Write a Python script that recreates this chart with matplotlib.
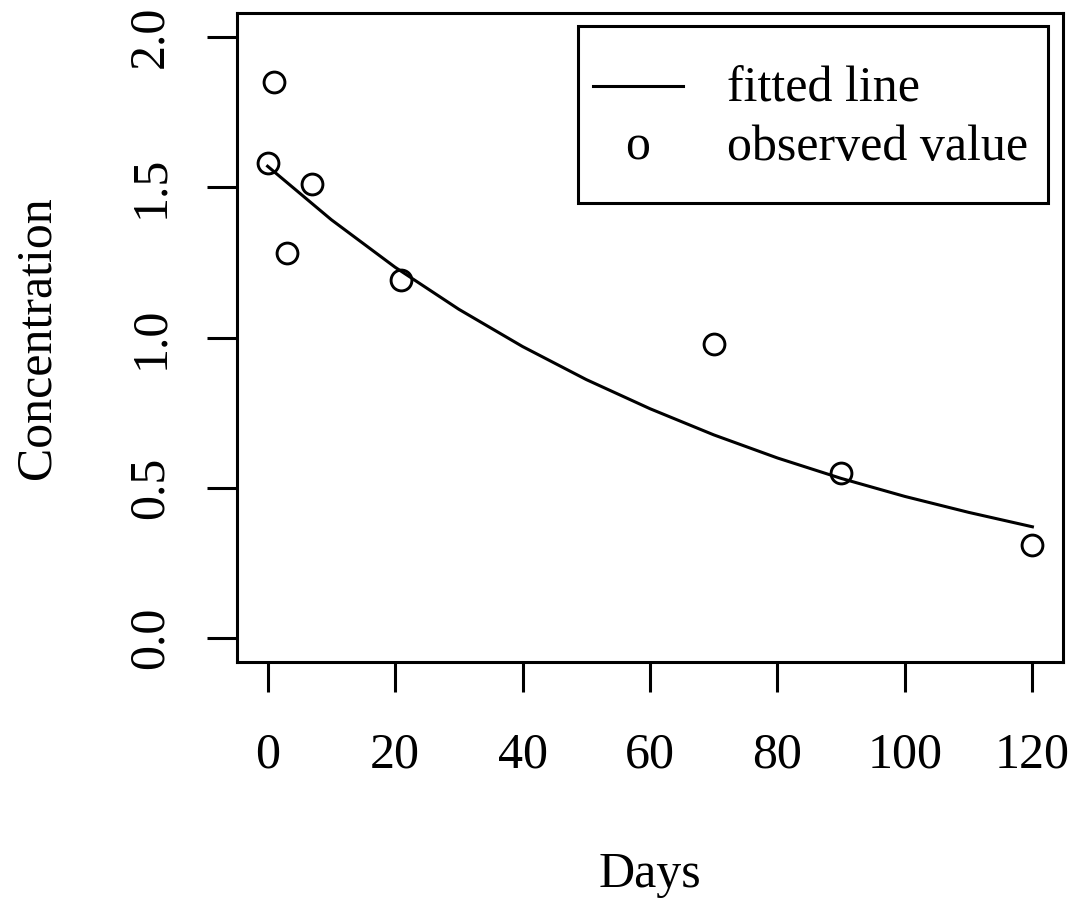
import matplotlib
matplotlib.use("Agg")
import matplotlib.pyplot as plt
import numpy as np

plt.rcParams['font.family'] = ['Liberation Serif', 'DejaVu Serif']

# observed concentrations
days = [0, 1, 3, 7, 21, 70, 90, 120]
conc = [1.58, 1.85, 1.28, 1.51, 1.19, 0.98, 0.55, 0.31]

# fitted curve evaluated every 10 days
fit_days = [0, 10, 20, 30, 40, 50, 60, 70, 80, 90, 100, 110, 120]
fit_conc = [1.570, 1.392, 1.234, 1.094, 0.970, 0.860, 0.763, 0.676,
            0.599, 0.531, 0.471, 0.418, 0.370]

xticks = [0, 20, 40, 60, 80, 100, 120]
yticks = [0.0, 0.5, 1.0, 1.5, 2.0]

W, H = 1089, 899
fig = plt.figure(figsize=(W / 100, H / 100), dpi=100)
# plot region in pixels: x 237..1063, y 13..662
L, R, T, B = 237, 1063, 13, 662
ax = fig.add_axes([L / W, 1 - B / H, (R - L) / W, (B - T) / H])

lw = 2.2
fs = 36

ax.plot(fit_days, fit_conc, color='black', lw=lw, solid_joinstyle='round')
ax.plot(days, conc, linestyle='none', marker='o', ms=15, mfc='none',
        mec='black', mew=2.1)

ax.set_xlim(-4.8, 124.8)
ax.set_ylim(-0.08, 2.08)
ax.set_xticks(xticks)
ax.set_xticklabels([str(v) for v in xticks])
ax.set_yticks(yticks)
ax.set_yticklabels([f"{v:.1f}" for v in yticks], rotation=90, va='center')

for s in ax.spines.values():
    s.set_linewidth(lw)
ax.tick_params(axis='both', direction='out', length=21.6, width=lw,
               labelsize=fs, color='black')
ax.tick_params(axis='x', pad=29)
ax.tick_params(axis='y', pad=24)

# axis titles
fig.text(((L + R) / 2) / W, 1 - 887 / H, 'Days', ha='center', va='baseline',
         fontsize=fs)
fig.text(50 / W, 1 - ((T + B) / 2) / H, 'Concentration', rotation=90,
         rotation_mode='anchor', ha='center', va='baseline', fontsize=fs)

# legend box, drawn by hand
def ax_xy(px, py):
    return (px - L) / (R - L), (B - py) / (B - T)

x0, y0 = ax_xy(578, 203)
x1, y1 = ax_xy(1048, 26)
ax.add_patch(plt.Rectangle((x0, y0), x1 - x0, y1 - y0, transform=ax.transAxes,
                           fill=False, lw=lw, ec='black'))
lx0, ly = ax_xy(593, 86)
lx1, _ = ax_xy(683, 86)
ax.plot([lx0, lx1], [ly, ly], transform=ax.transAxes, color='black', lw=lw)
tx, ty1 = ax_xy(727, 102)
_, ty2 = ax_xy(727, 160)
ox, _ = ax_xy(638, 160)
ax.text(tx, ty1, 'fitted line', transform=ax.transAxes, fontsize=fs,
        va='baseline', ha='left')
ax.text(ox, ty2, 'o', transform=ax.transAxes, fontsize=fs,
        va='baseline', ha='center')
ax.text(tx, ty2, 'observed value', transform=ax.transAxes, fontsize=fs,
        va='baseline', ha='left')

fig.savefig('out.png', dpi=100)
